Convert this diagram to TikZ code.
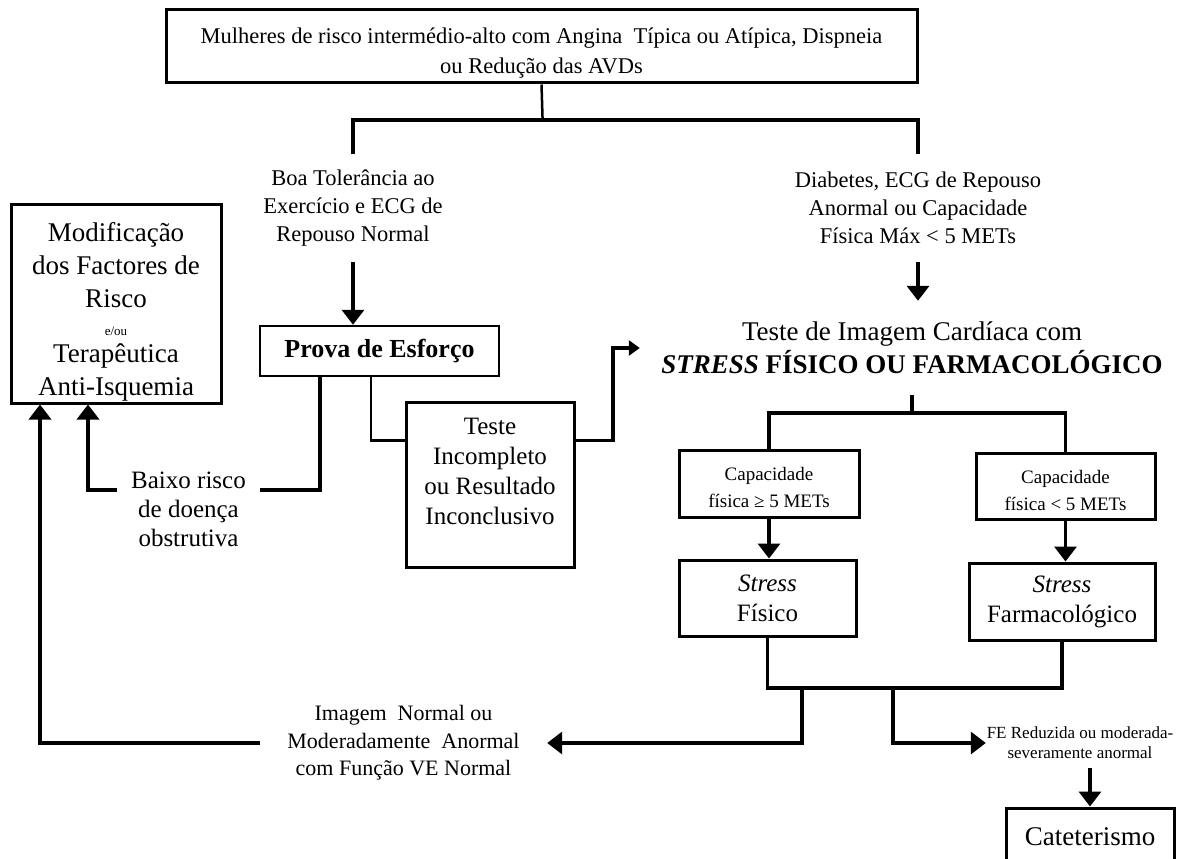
\documentclass[tikz,border=0pt]{standalone}
\usepackage{fontspec}
\setmainfont{Liberation Serif}
\usetikzlibrary{arrows.meta}

\begin{document}
\begin{tikzpicture}[x=1pt,y=-1pt,
    caixa/.style={draw, line width=3pt, inner sep=0pt, align=center},
    rotulo/.style={inner sep=0pt, align=center},
    liga/.style={line width=3.5pt},
    seta/.style={line width=3.5pt, -{Triangle[width=22pt,length=15pt]}}]
    \useasboundingbox (0,0) rectangle (1200,859);
    \clip (0,0) rectangle (1200,859);
    \node[caixa, minimum width=751pt, minimum height=73pt, font=\fontsize{22.5}{30}\selectfont] (topo) at (541.5,46.5) {\rule{0pt}{28pt}Mulheres de risco intermédio-alto com Angina~ Típica ou Atípica, Dispneia\\ou Redução das AVDs};
    \node[rotulo, minimum height=108pt, font=\fontsize{22.5}{28}\selectfont] (boa) at (353,208) {Boa Tolerância ao\\Exercício e ECG de\\Repouso Normal};
    \node[rotulo, minimum height=108pt, font=\fontsize{22.5}{28}\selectfont] (diab) at (918,208) {Diabetes, ECG de Repouso\\Anormal ou Capacidade\\Física Máx < 5 METs};
    \node[caixa, minimum width=210pt, minimum height=199pt, font=\fontsize{27}{33}\selectfont] (mod) at (116,303.5) {\rule{0pt}{36pt}Modificação\\dos Factores de\\Risco\\[-5pt]{\fontsize{13}{14}\selectfont e/ou}\\[-6pt]Terapêutica\\Anti-Isquemia};
    \node[caixa, line width=2.5pt, minimum width=239pt, minimum height=50pt, font=\bfseries\fontsize{26}{30}\selectfont] (prova) at (379.5,351) {Prova de Esforço};
    \node[caixa, minimum width=168pt, minimum height=165pt, font=\fontsize{25}{30}\selectfont] (teste) at (490,484.5) {\parbox[c][132pt][t]{160pt}{\centering Teste\\Incompleto\\ou Resultado\\Inconclusivo}};
    \node[rotulo, minimum width=143pt, font=\fontsize{25}{29}\selectfont] (baixo) at (188.5,509) {Baixo risco\\de doença\\obstrutiva};
    \node[rotulo, minimum width=544pt, minimum height=94pt, font=\fontsize{27}{33}\selectfont] (titulo) at (912,348) {Teste de Imagem Cardíaca com\\\textbf{\textit{STRESS}} \textbf{FÍSICO OU FARMACOLÓGICO}};
    \node[caixa, minimum width=180pt, minimum height=67pt, font=\fontsize{19}{27}\selectfont] (cap1) at (769,483.5) {\rule{0pt}{22pt}Capacidade\\física ≥ 5 METs};
    \node[caixa, minimum width=179pt, minimum height=66pt, font=\fontsize{19}{27}\selectfont] (cap2) at (1065.5,486) {\rule{0pt}{22pt}Capacidade\\física < 5 METs};
    \node[caixa, minimum width=177pt, minimum height=76pt, font=\fontsize{25}{30}\selectfont] (st1) at (767.5,598) {\textit{Stress}\\Físico};
    \node[caixa, minimum width=186pt, minimum height=77pt, font=\fontsize{25}{30}\selectfont] (st2) at (1062,601.5) {\textit{Stress}\\Farmacológico};
    \node[rotulo, minimum width=287pt, font=\fontsize{22}{27.5}\selectfont] (img) at (403.5,743) {Imagem~ Normal ou\\Moderadamente~ Anormal\\com Função VE Normal};
    \node[rotulo, minimum width=188pt, minimum height=50pt, font=\fontsize{17}{20}\selectfont] (fe) at (1080,743) {FE Reduzida ou moderada-\\severamente anormal};
    \node[caixa, minimum width=168pt, minimum height=58pt, font=\fontsize{27}{30}\selectfont] (cat) at (1090,837) {Cateterismo};
    \coordinate (div1) at (542.6,120);
    \coordinate (div2) at (912,413);
    \coordinate (ramoA) at (802,688);
    \coordinate (ramoB) at (893,688);
    \draw[liga, line width=2.5pt] (topo.south) -- (div1);
    \draw[liga] (boa.north) |- (div1) -| (diab.north);
    \draw[seta] (boa.south) -- (boa.south |- prova.north);
    \draw[seta] (diab.south) -- (diab.south |- titulo.north);
    \draw[liga] ([xshift=-59.5pt]prova.south) |- ([yshift=19pt]baixo.east);
    \draw[seta] ([yshift=19pt]baixo.west) -| ([xshift=-28pt]mod.south);
    \draw[liga, line width=2.5pt] ([xshift=-8.5pt]prova.south) |- ([yshift=-40pt]teste.north west);
    \draw[liga, -{Triangle[width=15pt,length=11pt]}] ([yshift=-40pt]teste.north east) -| ([xshift=-27pt]titulo.west) -- (titulo.west);
    \draw[liga] (titulo.south) -- (div2);
    \draw[liga] (cap1.north) |- (div2) -| (cap2.north);
    \draw[seta] (cap1.south) -- (cap1.south |- st1.north);
    \draw[seta] (cap2.south) -- (cap2.south |- st2.north);
    \draw[liga] (st1.south) |- (ramoA) -- (ramoB) -| (st2.south);
    \draw[seta] (ramoA) |- (img.east);
    \draw[seta] (ramoB) |- (fe.west);
    \draw[seta] (fe.south -| cat.north) -- (cat.north);
    \draw[seta] (img.west) -| ([xshift=-76pt]mod.south);
\end{tikzpicture}
\end{document}
